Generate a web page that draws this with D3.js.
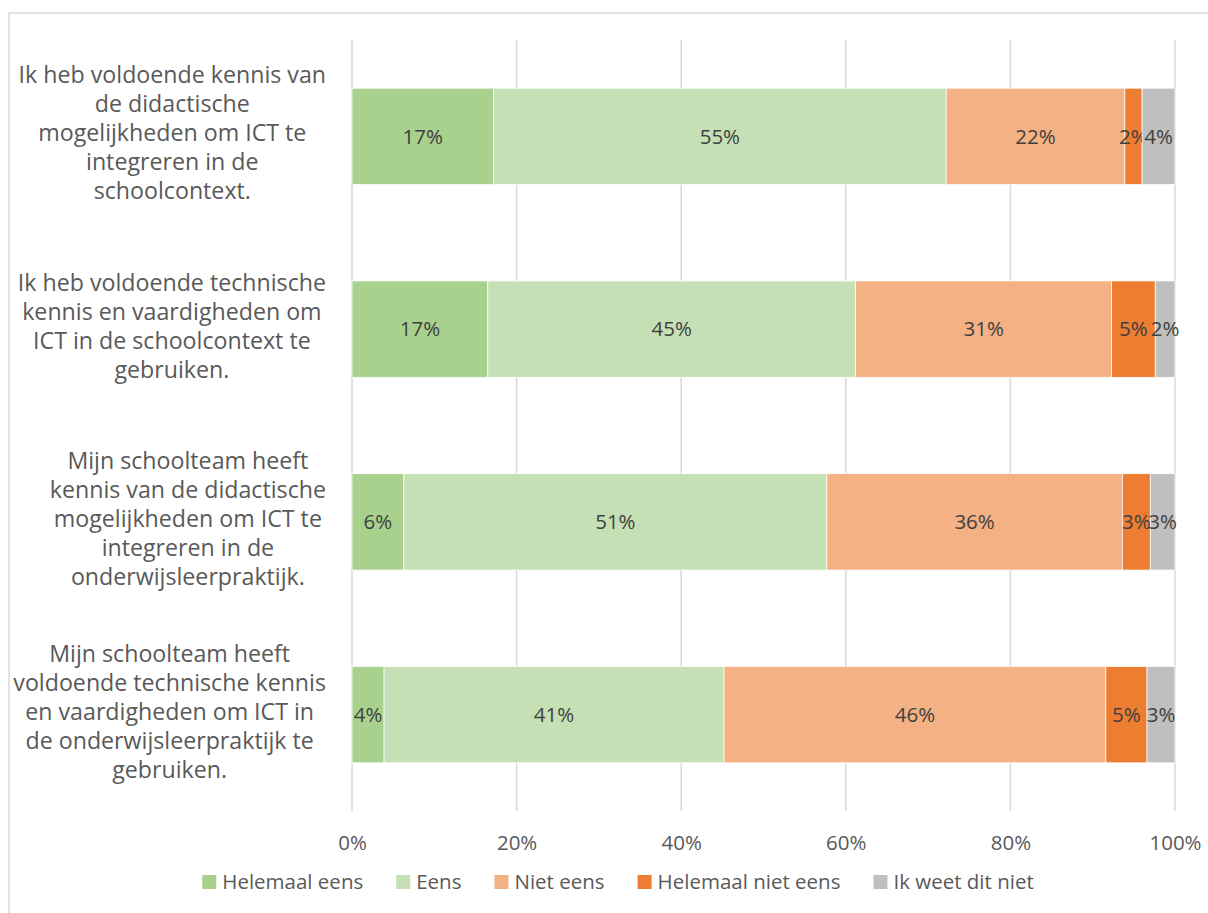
<!DOCTYPE html>
<html>
<head>
<meta charset="utf-8">
<script src="https://cdn.jsdelivr.net/npm/d3@7"></script>
<style>
  html, body { margin: 0; padding: 0; background: #ffffff; }
  svg { display: block; font-family: "Open Sans", Lato, sans-serif; }
</style>
</head>
<body>
<svg id="chart" width="1208" height="913"></svg>
<script>
// Statements (each as its wrapped lines)
const categories = [
  ["Ik heb voldoende kennis van", "de didactische", "mogelijkheden om ICT te", "integreren in de", "schoolcontext."],
  ["Ik heb voldoende technische", "kennis en vaardigheden om", "ICT in de schoolcontext te", "gebruiken."],
  ["Mijn schoolteam heeft", "kennis van de didactische", "mogelijkheden om ICT te", "integreren in de", "onderwijsleerpraktijk."],
  ["Mijn schoolteam heeft", "voldoende technische kennis", "en vaardigheden om ICT in", "de onderwijsleerpraktijk te", "gebruiken."]
];

// Answer options
const seriesNames = ["Helemaal eens", "Eens", "Niet eens", "Helemaal niet eens", "Ik weet dit niet"];
const seriesColors = ["#a9d18e", "#c5e0b4", "#f4b183", "#ed7d31", "#bfbfbf"];

// Share of respondents per answer, one array per answer option (per statement)
const helemaalEens     = [0.172, 0.165, 0.063, 0.039];
const eens             = [0.550, 0.447, 0.514, 0.413];
const nietEens         = [0.217, 0.311, 0.359, 0.464];
const helemaalNietEens = [0.021, 0.053, 0.034, 0.050];
const weetNiet         = [0.040, 0.024, 0.030, 0.034];

const tickValues = [0, 0.2, 0.4, 0.6, 0.8, 1.0];

const seriesValues = [helemaalEens, eens, nietEens, helemaalNietEens, weetNiet];
const rows = categories.map((c, i) => {
  const r = { key: i };
  seriesNames.forEach((s, j) => { r[s] = seriesValues[j][i]; });
  return r;
});

const FONT = "'Open Sans', Lato, sans-serif";
const svg = d3.select("#chart");
const fmt = d3.format(".0%");

// Chart frame
svg.append("rect")
  .attr("x", 9).attr("y", 13)
  .attr("width", 1240).attr("height", 940)
  .attr("fill", "none").attr("stroke", "#d9d9d9").attr("stroke-width", 1.5);

const x = d3.scaleLinear().domain([0, 1]).range([352, 1175]);
const y = d3.scaleBand().domain(d3.range(categories.length))
  .range([40, 811]).paddingInner(0.5).paddingOuter(0.25);

// Vertical gridlines
svg.append("g").selectAll("line").data(tickValues).join("line")
  .attr("x1", d => x(d)).attr("x2", d => x(d))
  .attr("y1", 40).attr("y2", 811)
  .attr("stroke", "#d9d9d9").attr("stroke-width", 1.5);

// Bottom axis labels
const xAxis = d3.axisBottom(x).tickValues(tickValues).tickFormat(fmt).tickSize(0).tickPadding(0);
const axG = svg.append("g").attr("transform", "translate(0,836)").call(xAxis);
axG.select(".domain").remove();
axG.selectAll("text")
  .attr("font-family", FONT)
  .attr("font-size", 20.5).attr("fill", "#595959")
  .attr("dy", "0.35em").attr("y", 7);

// Stacked bars
const stack = d3.stack().keys(seriesNames);
const layers = stack(rows);

const layerG = svg.append("g").selectAll("g").data(layers).join("g")
  .attr("fill", (d, i) => seriesColors[i]);

layerG.selectAll("rect").data(d => d).join("rect")
  .attr("x", d => x(d[0]))
  .attr("y", (d, i) => y(i))
  .attr("width", d => x(d[1]) - x(d[0]))
  .attr("height", y.bandwidth())
  .attr("stroke", "#ffffff").attr("stroke-width", 0.75);

// Value labels
layerG.selectAll("text").data(d => d).join("text")
  .attr("x", d => (x(d[0]) + x(d[1])) / 2)
  .attr("y", (d, i) => y(i) + y.bandwidth() / 2)
  .attr("text-anchor", "middle").attr("dy", "0.35em")
  .attr("font-size", 20.5).attr("fill", "#404040")
  .text(d => fmt(d[1] - d[0]));

// Category labels: lines centred within a block that ends near the axis
const lineH = 29;
const labelRight = 326;
categories.forEach((lines, i) => {
  const g = svg.append("g");
  const cy = y(i) + y.bandwidth() / 2 - 3;
  const texts = g.selectAll("text").data(lines).join("text")
    .attr("text-anchor", "middle")
    .attr("font-size", 23.2).attr("fill", "#595959")
    .attr("dy", "0.35em")
    .attr("y", (d, k) => cy + (k - (lines.length - 1) / 2) * lineH)
    .text(d => d);
  let maxW = 0;
  texts.each(function () { maxW = Math.max(maxW, this.getComputedTextLength()); });
  texts.attr("x", labelRight - maxW / 2);
});

// Legend
const legend = svg.append("g").attr("transform", "translate(0,882)");
const items = legend.selectAll("g").data(seriesNames).join("g");
items.append("rect")
  .attr("width", 14).attr("height", 14).attr("y", -7)
  .attr("fill", (d, i) => seriesColors[i]);
items.append("text")
  .attr("x", 20).attr("dy", "0.35em")
  .attr("font-size", 20.5).attr("fill", "#595959")
  .text(d => d);
const widths = [];
items.each(function () { widths.push(20 + d3.select(this).select("text").node().getComputedTextLength()); });
const gap = 33;
const total = d3.sum(widths) + gap * (widths.length - 1);
let cx = 618 - total / 2;
items.attr("transform", (d, i) => {
  const t = `translate(${cx},0)`;
  cx += widths[i] + gap;
  return t;
});
</script>
</body>
</html>
